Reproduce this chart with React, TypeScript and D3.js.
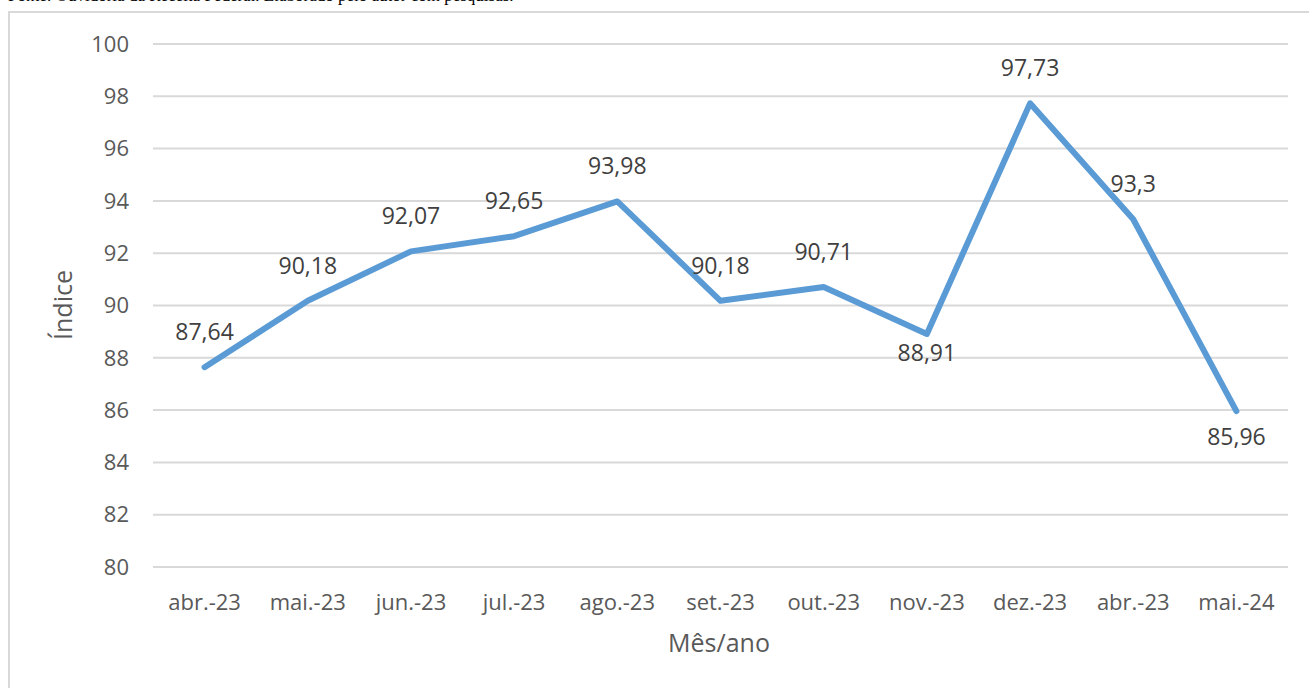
import React from 'react';
import * as d3 from 'd3';

// month labels and the index value for each month
const months = ['abr.-23', 'mai.-23', 'jun.-23', 'jul.-23', 'ago.-23', 'set.-23', 'out.-23', 'nov.-23', 'dez.-23', 'abr.-23', 'mai.-24'];
const indexValues = [87.64, 90.18, 92.07, 92.65, 93.98, 90.18, 90.71, 88.91, 97.73, 93.3, 85.96];
const labelBelow = [false, false, false, false, false, false, false, true, false, false, true];
const yTicks = [80, 82, 84, 86, 88, 90, 92, 94, 96, 98, 100];

const W = 1309;
const H = 688;
const FONT = '"Open Sans", "DejaVu Sans", sans-serif';
const TEXT = '#595959';

export default function App() {
  // x uses a band scale so each month sits in the middle of its slot
  const x = d3.scaleBand<number>()
    .domain(months.map((_, i) => i))
    .range([153, 1288]);
  const y = d3.scaleLinear().domain([80, 100]).range([567, 44]);

  const cx = (i: number) => (x(i) as number) + x.bandwidth() / 2;

  const line = d3.line<number>()
    .x((_, i) => cx(i))
    .y((d) => y(d));

  const fmt = (v: number) => String(v).replace('.', ',');

  return (
    <svg width={W} height={H} style={{ position: 'absolute', left: 0, top: 0, background: '#fff' }}>
      {/* cut-off caption line from the source page */}
      <text x={8} y={1} fontFamily='"Liberation Serif", serif' fontSize={17} fill="#000">
        Fonte: Ouvidoria da Receita Federal. Elaborado pelo autor com pesquisas.
      </text>

      {/* chart frame */}
      <rect x={9} y={12} width={W + 10} height={H + 10} fill="#fff" stroke="#d9d9d9" strokeWidth={2} />

      {/* gridlines and y labels */}
      {yTicks.map((t) => (
        <g key={t}>
          <line x1={153} x2={1288} y1={y(t)} y2={y(t)} stroke="#d9d9d9" strokeWidth={2} />
          <text x={129} y={y(t)} dy="0.35em" textAnchor="end" fontFamily={FONT} fontSize={22} fill={TEXT}>
            {t}
          </text>
        </g>
      ))}

      {/* x labels */}
      {months.map((m, i) => (
        <text key={i} x={cx(i)} y={602} dy="0.35em" textAnchor="middle" fontFamily={FONT} fontSize={22} fill={TEXT}>
          {m}
        </text>
      ))}

      <path d={line(indexValues) || ''} fill="none" stroke="#5b9bd5" strokeWidth={6} strokeLinejoin="round" strokeLinecap="round" />

      {/* data labels */}
      {indexValues.map((v, i) => (
        <text key={i} x={cx(i)} y={y(v) + (labelBelow[i] ? (i === 10 ? 26 : 19) : -35)} dy="0.35em"
          textAnchor="middle" fontFamily={FONT} fontSize={23} fill="#404040">
          {fmt(v)}
        </text>
      ))}

      {/* axis titles */}
      <text x={719} y={643} dy="0.35em" textAnchor="middle" fontFamily={FONT} fontSize={25} fill={TEXT}>
        Mês/ano
      </text>
      <text transform="translate(63,305) rotate(-90)" dy="0.35em" textAnchor="middle" fontFamily={FONT} fontSize={25} fill={TEXT}>
        Índice
      </text>
    </svg>
  );
}
